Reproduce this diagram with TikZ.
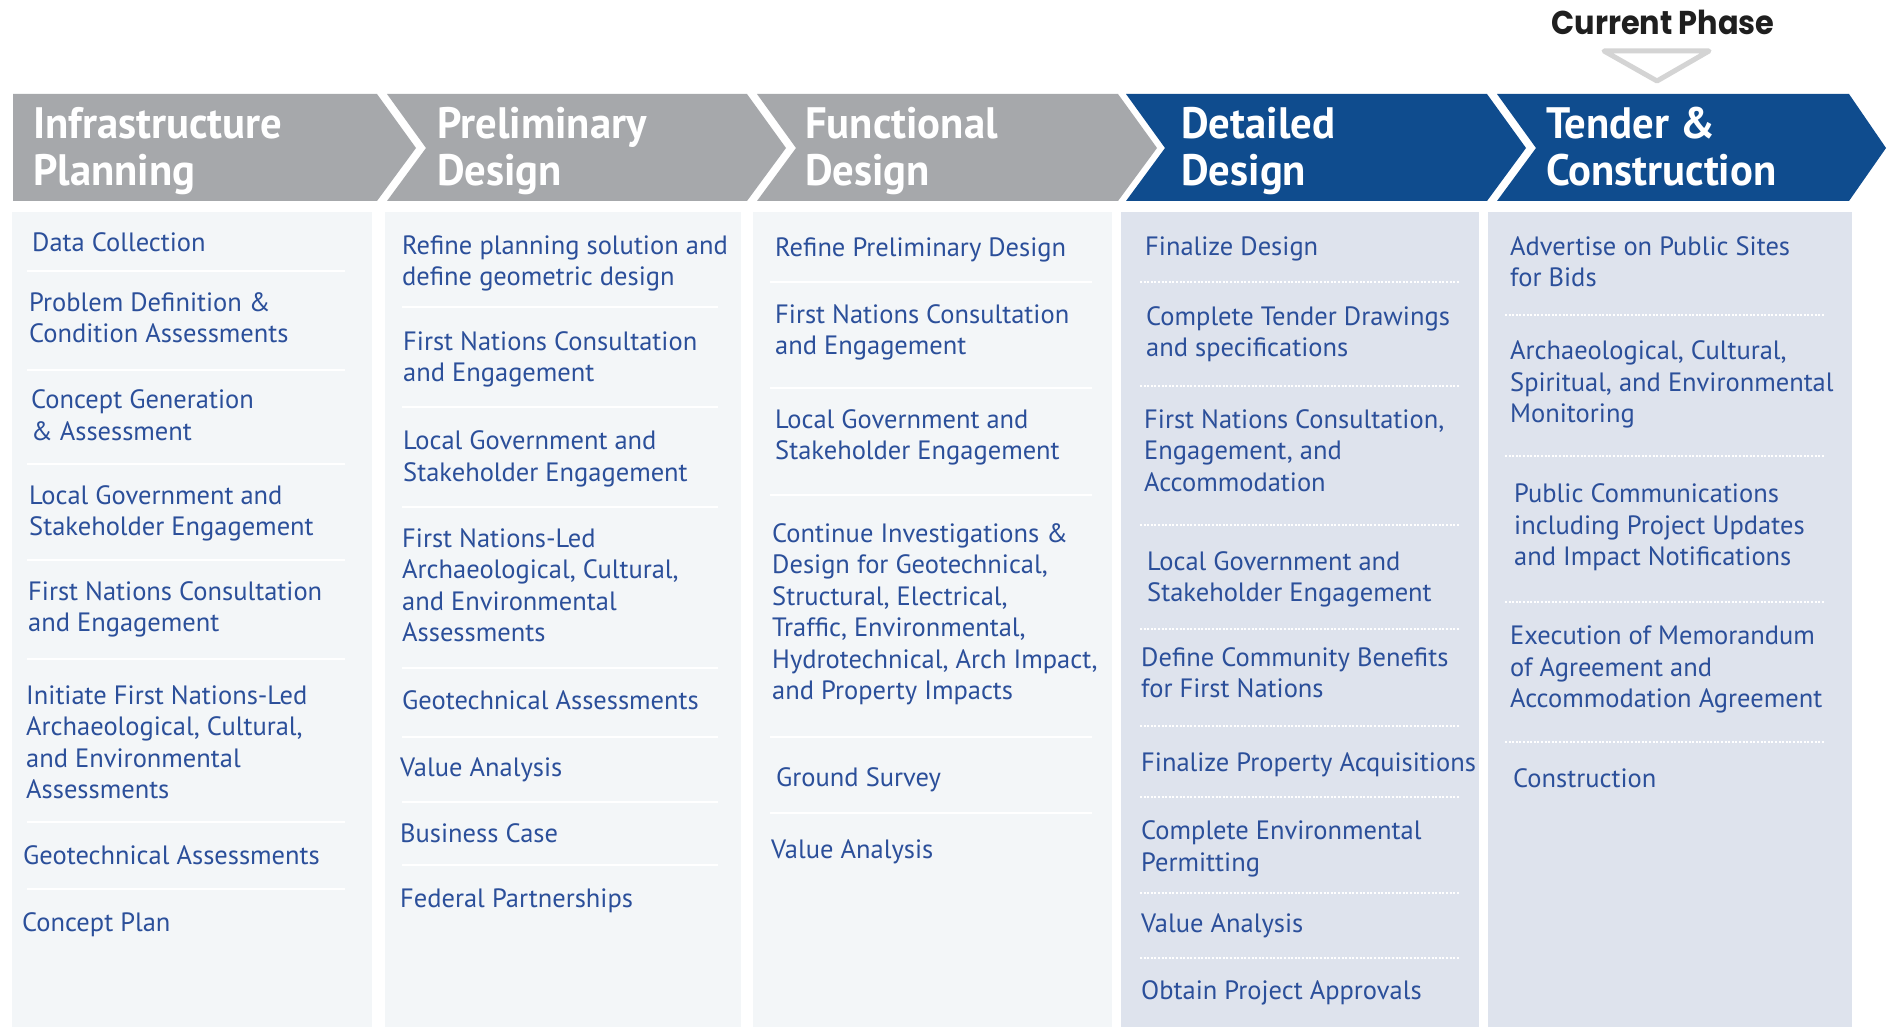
\documentclass[tikz,border=0pt]{standalone}
\usepackage{fontspec}
\setmainfont{PT Sans}
\newfontfamily\hdrfont{PT Sans}[FakeStretch=0.97]
\newfontfamily\cpfont{Poppins}[FakeStretch=0.92]
\definecolor{hgray}{HTML}{A6A8AB}
\definecolor{hblue}{HTML}{0F4C8E}
\definecolor{bodyA}{HTML}{F3F6F8}
\definecolor{bodyB}{HTML}{DEE3ED}
\definecolor{txtblue}{HTML}{2B4F9A}
\definecolor{trigray}{HTML}{D4D4D4}
\newcommand\itm[4]{\node[itm] (#1) at (#2,#3-22.05) {\strut #4};}
\newcommand\hdr[4]{\node[hdrtext] (#1) at (#2,#3-32.9) {\strut #4};}
\begin{document}
\begin{tikzpicture}[x=1pt,y=-1pt,
  itm/.style={anchor=north west, inner sep=0pt, align=left, text=txtblue,
    font=\fontsize{26.5}{31.5}\selectfont},
  hdrtext/.style={anchor=north west, inner sep=0pt, align=left, text=white,
    font=\hdrfont\bfseries\fontsize{44}{47}\selectfont},
  sepw/.style={draw=white, line width=1.6pt},
  sepdot/.style={draw=white, line width=2.2pt, dash pattern=on 2pt off 1.6pt},
  tri/.style={draw=trigray, line width=5pt, line join=round, fill=white}]
\useasboundingbox[fill=white] (0,0) rectangle (1887,1027);

% column bodies
\fill[bodyA] (12,212) rectangle (372,1027);
\fill[bodyA] (385,212) rectangle (741,1027);
\fill[bodyA] (753,212) rectangle (1112,1027);
\fill[bodyB] (1121,212) rectangle (1479,1027);
\fill[bodyB] (1488,212) rectangle (1852,1027);

% header chevrons
\fill[hgray] (13,94) -- (377,94) -- (416,148) -- (377,201) -- (13,201) -- cycle;
\fill[hgray] (387,94) -- (747,94) -- (786,148) -- (747,201) -- (387,201) -- (426,148) -- cycle;
\fill[hgray] (757,94) -- (1118,94) -- (1157,148) -- (1118,201) -- (757,201) -- (796,148) -- cycle;
\fill[hblue] (1126,94) -- (1487,94) -- (1526,148) -- (1487,201) -- (1126,201) -- (1165,148) -- cycle;
\fill[hblue] (1497,94) -- (1849,94) -- (1886,148) -- (1849,201) -- (1497,201) -- (1536,148) -- cycle;

% header texts
\hdr{h1}{33}{138}{Infrastructure\\Planning}
\hdr{h2}{437}{138}{Preliminary\\Design}
\hdr{h3}{805}{138}{Functional\\Design}
\hdr{h4}{1181}{138}{Detailed\\Design}
\hdr{h5}{1546}{138}{Tender \&\\Construction}

% current phase marker
\node[anchor=base, inner sep=0pt, text=black!88,
  font=\cpfont\bfseries\fontsize{33}{38}\selectfont] (cp) at (1663,35) {Current Phase};
\draw[tri] (1604,51) -- (1709,51) -- (1657,81) -- cycle;

% separators column 1
\foreach \y in {271,370,464,560,659,822,889}
  \draw[sepw] (27,\y) -- (345,\y);
% separators column 2
\foreach \y in {307,407,507,668,737,802,865}
  \draw[sepw] (402,\y) -- (718,\y);
% separators column 3
\foreach \y in {282,388,495,737,813}
  \draw[sepw] (770,\y) -- (1092,\y);
% separators column 4 (dotted)
\foreach \y in {282,386,525,629,726,797,893,958}
  \draw[sepdot] (1140,\y) -- (1460,\y);
% separators column 5 (dotted)
\foreach \y in {315,456,602,742}
  \draw[sepdot] (1505,\y) -- (1825,\y);

% column 1
\itm{c1a}{32}{251}{Data Collection}
\itm{c1b}{29}{311}{Problem Definition \&\\Condition Assessments}
\itm{c1c}{31}{408.7}{Concept Generation\\\& Assessment}
\itm{c1d}{29}{503.8}{Local Government and\\Stakeholder Engagement}
\itm{c1e}{28}{600}{First Nations Consultation\\and Engagement}
\itm{c1f}{26}{704}{Initiate First Nations-Led\\Archaeological, Cultural,\\and Environmental\\Assessments}
\itm{c1g}{23}{864.5}{Geotechnical Assessments}
\itm{c1h}{22}{931.5}{Concept Plan}

% column 2
\itm{c2a}{402}{254}{Refine planning solution and\\define geometric design}
\itm{c2b}{403}{350}{First Nations Consultation\\and Engagement}
\itm{c2c}{403}{449.6}{Local Government and\\Stakeholder Engagement}
\itm{c2d}{402}{547}{First Nations-Led\\Archaeological, Cultural,\\and Environmental\\Assessments}
\itm{c2e}{402}{709}{Geotechnical Assessments}
\itm{c2f}{400}{776.5}{Value Analysis}
\itm{c2g}{400}{842}{Business Case}
\itm{c2h}{400}{907}{Federal Partnerships}

% column 3
\itm{c3a}{775}{256}{Refine Preliminary Design}
\itm{c3b}{775}{323}{First Nations Consultation\\and Engagement}
\itm{c3c}{775}{428}{Local Government and\\Stakeholder Engagement}
\itm{c3d}{772}{542}{Continue Investigations \&\\Design for Geotechnical,\\Structural, Electrical,\\Traffic, Environmental,\\Hydrotechnical, Arch Impact,\\and Property Impacts}
\itm{c3e}{776}{786}{Ground Survey}
\itm{c3f}{771}{858.5}{Value Analysis}

% column 4
\itm{c4a}{1145}{255.5}{Finalize Design}
\itm{c4b}{1146}{325}{Complete Tender Drawings\\and specifications}
\itm{c4c}{1144}{428}{First Nations Consultation,\\Engagement, and\\Accommodation}
\itm{c4d}{1147}{570}{Local Government and\\Stakeholder Engagement}
\itm{c4e}{1141}{666}{Define Community Benefits\\for First Nations}
\itm{c4f}{1141}{771}{Finalize Property Acquisitions}
\itm{c4g}{1141}{839.5}{Complete Environmental\\Permitting}
\itm{c4h}{1141}{932}{Value Analysis}
\itm{c4i}{1141}{999.6}{Obtain Project Approvals}

% column 5
\itm{c5a}{1510}{255}{Advertise on Public Sites\\for Bids}
\itm{c5b}{1510}{359.4}{Archaeological, Cultural,\\Spiritual, and Environmental\\Monitoring}
\itm{c5c}{1514}{502.6}{Public Communications\\including Project Updates\\and Impact Notifications}
\itm{c5d}{1510}{644.6}{Execution of Memorandum\\of Agreement and\\Accommodation Agreement}
\itm{c5e}{1513}{787.5}{Construction}
\end{tikzpicture}
\end{document}
